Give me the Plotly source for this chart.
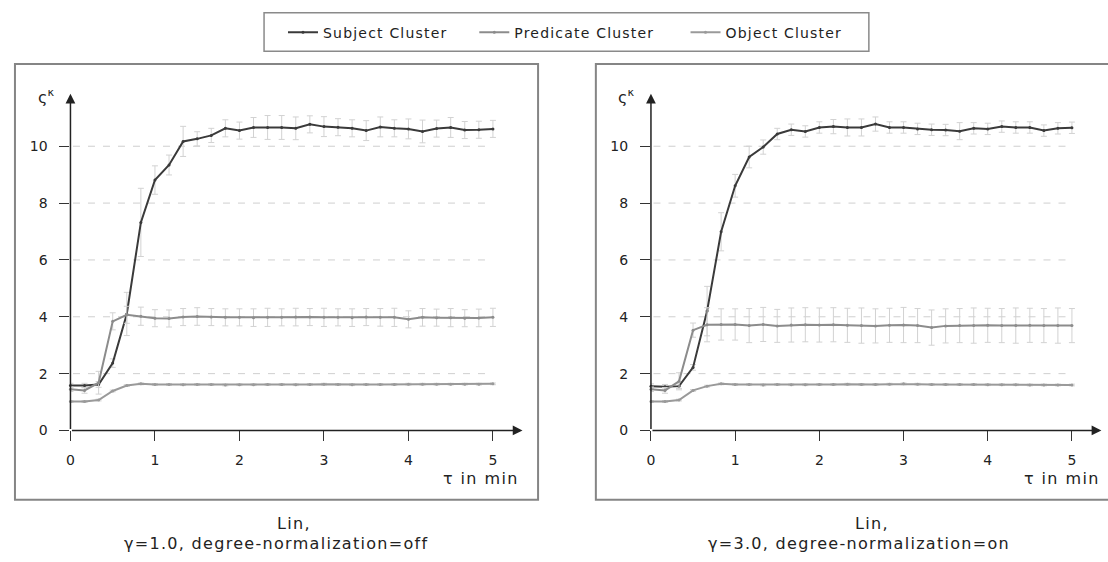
import plotly.graph_objects as go

W, H = 1108, 562

tau_sec = [0, 10, 20, 30, 40, 50, 60, 70, 80, 90, 100, 110, 120, 130, 140, 150,
           160, 170, 180, 190, 200, 210, 220, 230, 240, 250, 260, 270, 280, 290, 300]
tau = [s / 60 for s in tau_sec]

series_names = ["Subject Cluster", "Predicate Cluster", "Object Cluster"]
series_colors = ["#3a3a3a", "#8c8c8c", "#9a9a9a"]

# Left panel: gamma=1.0, degree-normalization=off
left_subject = [1.58, 1.58, 1.62, 2.37, 4.10, 7.32, 8.81, 9.34, 10.17, 10.26, 10.38, 10.63, 10.55,
                10.66, 10.66, 10.66, 10.63, 10.77, 10.69, 10.67, 10.63, 10.55, 10.68, 10.63, 10.61,
                10.52, 10.62, 10.66, 10.57, 10.58, 10.61]
left_subject_err = [0.08, 0.08, 0.10, 0.15, 0.76, 1.20, 0.50, 0.35, 0.53, 0.25, 0.25, 0.30, 0.30,
                    0.35, 0.42, 0.42, 0.40, 0.30, 0.35, 0.30, 0.30, 0.35, 0.35, 0.30, 0.35,
                    0.40, 0.30, 0.35, 0.30, 0.30, 0.30]
left_predicate = [1.45, 1.41, 1.68, 3.84, 4.07, 4.02, 3.95, 3.94, 3.99, 4.01, 3.99, 3.98, 3.98,
                  3.97, 3.98, 3.98, 3.99, 3.99, 3.98, 3.98, 3.97, 3.99, 3.98, 3.98, 3.91,
                  3.98, 3.97, 3.97, 3.95, 3.96, 3.98]
left_predicate_err = [0.08, 0.10, 0.40, 0.30, 0.30, 0.32, 0.30, 0.30, 0.30, 0.31, 0.30, 0.30, 0.30,
                      0.31, 0.32, 0.30, 0.31, 0.30, 0.32, 0.30, 0.31, 0.30, 0.31, 0.32, 0.30,
                      0.31, 0.30, 0.32, 0.30, 0.31, 0.32]
left_object = [1.02, 1.02, 1.07, 1.39, 1.58, 1.64, 1.62, 1.62, 1.61, 1.62, 1.62, 1.60, 1.61,
               1.61, 1.62, 1.62, 1.61, 1.62, 1.63, 1.62, 1.61, 1.62, 1.62, 1.62, 1.63,
               1.63, 1.63, 1.63, 1.63, 1.63, 1.64]
left_object_err = [0.03] * 31

# Right panel: gamma=3.0, degree-normalization=on
right_subject = [1.56, 1.54, 1.56, 2.22, 4.20, 6.99, 8.61, 9.62, 9.97, 10.43, 10.58, 10.52, 10.66,
                 10.69, 10.66, 10.66, 10.78, 10.66, 10.66, 10.61, 10.58, 10.57, 10.53, 10.63, 10.61,
                 10.69, 10.66, 10.66, 10.55, 10.63, 10.65]
right_subject_err = [0.08, 0.08, 0.08, 0.10, 0.87, 0.67, 0.40, 0.38, 0.25, 0.20, 0.20, 0.20, 0.20,
                     0.25, 0.30, 0.30, 0.25, 0.20, 0.20, 0.20, 0.20, 0.20, 0.30, 0.20, 0.20,
                     0.20, 0.20, 0.20, 0.20, 0.20, 0.20]
right_predicate = [1.45, 1.41, 1.73, 3.53, 3.72, 3.73, 3.73, 3.69, 3.73, 3.68, 3.71, 3.72, 3.71,
                   3.72, 3.70, 3.69, 3.68, 3.70, 3.71, 3.69, 3.62, 3.68, 3.69, 3.69, 3.70,
                   3.69, 3.69, 3.70, 3.69, 3.69, 3.69]
right_predicate_err = [0.08, 0.10, 0.30, 0.25, 0.60, 0.55, 0.55, 0.60, 0.60, 0.58, 0.60, 0.60, 0.60,
                       0.60, 0.60, 0.62, 0.60, 0.60, 0.62, 0.60, 0.62, 0.60, 0.60, 0.62, 0.60,
                       0.60, 0.62, 0.60, 0.60, 0.62, 0.60]
right_object = [1.02, 1.02, 1.07, 1.41, 1.56, 1.64, 1.62, 1.62, 1.60, 1.62, 1.61, 1.61, 1.62,
                1.62, 1.63, 1.62, 1.62, 1.63, 1.64, 1.63, 1.62, 1.62, 1.62, 1.62, 1.61,
                1.61, 1.61, 1.60, 1.60, 1.60, 1.60]
right_object_err = [0.03] * 31

y_ticks = [0, 2, 4, 6, 8, 10]
x_ticks = [0, 1, 2, 3, 4, 5]
subtitles = ["γ=1.0, degree-normalization=off", "γ=3.0, degree-normalization=on"]

FONT = "DejaVu Sans"
TXT = "#222222"


def spaced(s, ls=1.3):
    return '<span style="letter-spacing:%.1fpx">%s</span>' % (ls, s)


def px(x):
    return x / W


def py(y):
    return 1 - y / H


fig = go.Figure()

panels = [
    ("x", "y", [left_subject, left_predicate, left_object],
     [left_subject_err, left_predicate_err, left_object_err]),
    ("x2", "y2", [right_subject, right_predicate, right_object],
     [right_subject_err, right_predicate_err, right_object_err]),
]
legend_ids = ["legend", "legend2", "legend3"]

for pi, (xa, ya, vals, errs) in enumerate(panels):
    for si in range(3):
        fig.add_trace(go.Scatter(
            x=tau, y=vals[si], xaxis=xa, yaxis=ya,
            mode="lines+markers",
            name=spaced(series_names[si], 1.2),
            legendgroup=series_names[si],
            legend=legend_ids[si],
            showlegend=(pi == 0),
            line=dict(color=series_colors[si], width=2),
            marker=dict(color=series_colors[si], size=3),
            error_y=dict(type="data", array=errs[si], color="#d2d2d2", thickness=1, width=3),
            cliponaxis=False,
        ))

XR = [0, 5.35]
YR = [0, 11.85]
ydom = [py(436.7), py(95)]
axis_common = dict(showgrid=False, zeroline=False, showline=False, ticks="outside",
                   ticklen=10, tickwidth=1, tickcolor="#333",
                   tickfont=dict(family=FONT, size=14, color=TXT))


def legend_at(xpx):
    return dict(orientation="h", x=px(xpx), xanchor="left", y=py(33), yanchor="middle",
                borderwidth=0, bgcolor="rgba(0,0,0,0)",
                font=dict(family=FONT, size=14, color=TXT), itemwidth=30)


fig.update_layout(
    width=W, height=H,
    margin=dict(l=0, r=0, t=0, b=0),
    paper_bgcolor="white", plot_bgcolor="white",
    xaxis=dict(domain=[px(66.7), px(66.7 + 5.35 * 84.8)], range=XR, anchor="y",
               tickvals=x_ticks, ticklabelstandoff=7, **axis_common),
    yaxis=dict(domain=ydom, range=YR, anchor="x", tickvals=y_ticks, ticklabelstandoff=9, **axis_common),
    xaxis2=dict(domain=[px(649.3), px(649.3 + 5.35 * 84.5)], range=XR, anchor="y2",
                tickvals=x_ticks, ticklabelstandoff=7, **axis_common),
    yaxis2=dict(domain=ydom, range=YR, anchor="x2", tickvals=y_ticks, ticklabelstandoff=9, **axis_common),
    legend=legend_at(280),
    legend2=legend_at(472),
    legend3=legend_at(684),
    showlegend=True,
)

shapes = []
annotations = []

# legend frame
shapes.append(dict(type="rect", xref="paper", yref="paper", x0=px(261), x1=px(868),
                   y0=py(52), y1=py(13), line=dict(color="#8a8a8a", width=1.5), layer="below"))

frames = [(11, 536), (594, 1119)]
for pi, (xa, ya) in enumerate([("x", "y"), ("x2", "y2")]):
    x0, x1 = frames[pi]
    shapes.append(dict(type="rect", xref="paper", yref="paper", x0=px(x0), x1=px(x1),
                       y0=py(507), y1=py(65), line=dict(color="#858585", width=2), layer="below"))
    for yv in y_ticks[1:]:
        shapes.append(dict(type="line", xref=xa, yref=ya, x0=0.03, x1=x_ticks[-1], y0=yv, y1=yv,
                           line=dict(color="#cfcfcf", width=1, dash="7px,8px"), layer="below"))
    annotations.append(dict(xref=xa, yref=ya, axref=xa, ayref=ya, x=XR[1], y=0, ax=0, ay=0,
                            text="", showarrow=True, arrowhead=2, arrowsize=1.3, arrowwidth=1.5,
                            arrowcolor="#222"))
    annotations.append(dict(xref=xa, yref=ya, axref=xa, ayref=ya, x=0, y=YR[1], ax=0, ay=0,
                            text="", showarrow=True, arrowhead=2, arrowsize=1.3, arrowwidth=1.5,
                            arrowcolor="#222"))

# axis titles
for cx, tx in [(42, 479), (624, 1062)]:
    annotations.append(dict(xref="paper", yref="paper", x=px(cx), y=py(98), xanchor="center",
                            yanchor="middle", text="ς<sup>κ</sup>", showarrow=False,
                            font=dict(family=FONT, size=16, color=TXT)))
    annotations.append(dict(xref="paper", yref="paper", x=px(tx), y=py(485), xanchor="center",
                            yanchor="middle", text=spaced("τ in min", 1.4), showarrow=False,
                            font=dict(family=FONT, size=16, color=TXT)))

# subtitles
for (lx, l2x), sub in zip([(272, 118), (852, 705)], subtitles):
    annotations.append(dict(xref="paper", yref="paper", x=px(lx), y=py(531), xanchor="left",
                            yanchor="middle", text=spaced("Lin,", 1.3), showarrow=False,
                            font=dict(family=FONT, size=16, color=TXT)))
    annotations.append(dict(xref="paper", yref="paper", x=px(l2x), y=py(551), xanchor="left",
                            yanchor="middle", text=spaced(sub, 1.3), showarrow=False,
                            font=dict(family=FONT, size=16, color=TXT)))

fig.update_layout(shapes=shapes, annotations=annotations)
fig.write_html("out.html", config={"displayModeBar": False},
               post_script="document.body.style.margin='0px';")
